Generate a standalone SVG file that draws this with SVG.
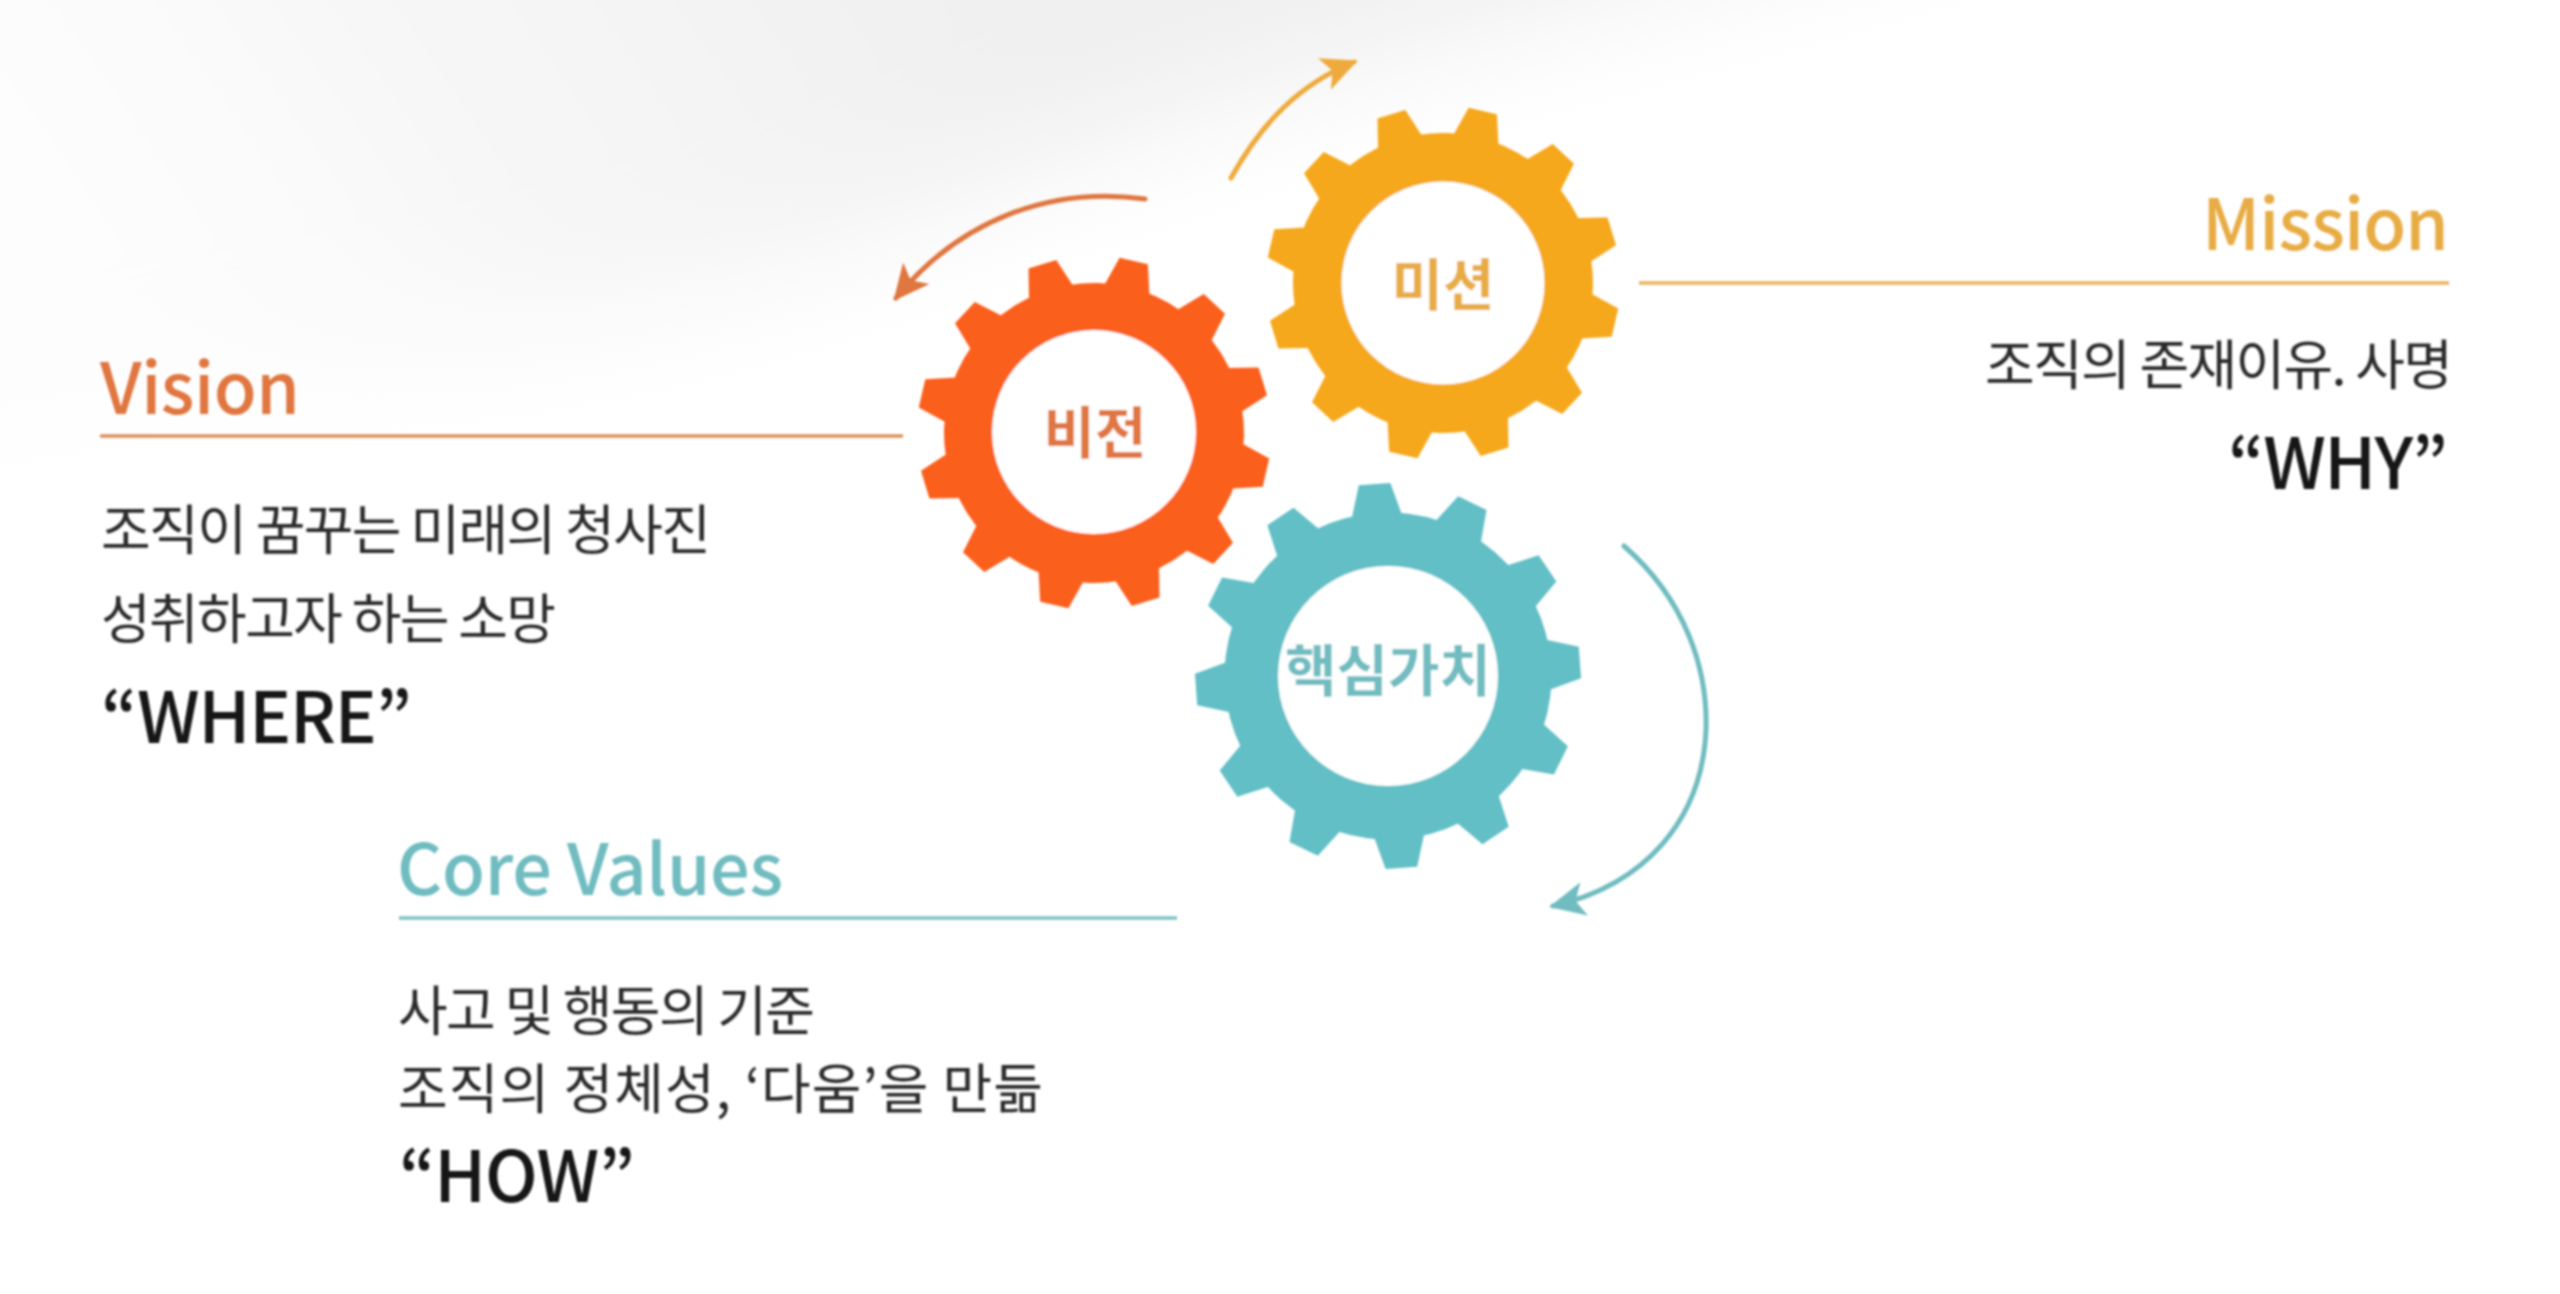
<svg xmlns="http://www.w3.org/2000/svg" xmlns:xlink="http://www.w3.org/1999/xlink" width="2560" height="1294" viewBox="0 0 2560 1294">
<style>
text{font-family:"Noto Sans CJK KR","Noto Sans",sans-serif}
.title{font-size:70px;font-weight:500}
.body{font-size:54px;font-weight:400;fill:#2a2a2a}
.key{font-size:70px;font-weight:500;fill:#151515}
.gl{font-size:56px;font-weight:700;text-anchor:middle}
.o{fill:#e0763f}.y{fill:#e8ac45}.t{fill:#6fbcc0}
.arc{fill:none;stroke-width:5;stroke-linecap:round}
.rule{stroke-width:3.5;fill:none}
</style>
<defs>
<linearGradient id="bgGrad" gradientUnits="userSpaceOnUse" x1="1000" y1="0" x2="300" y2="480"><stop offset="0" stop-color="#f0f0f0"/><stop offset="0.55" stop-color="#f6f6f6"/><stop offset="1" stop-color="#fdfdfd"/></linearGradient>
<filter id="bgBlur" x="-20%" y="-20%" width="140%" height="140%"><feGaussianBlur stdDeviation="60"/></filter>
<filter id="soft" x="0" y="0" width="100%" height="100%" filterUnits="userSpaceOnUse" primitiveUnits="userSpaceOnUse"><feGaussianBlur stdDeviation="0.9"/></filter>
<path id="tooth" d="M-23-147L-14.500-176.500L14.500-176.500L23-147Z"/>
<g id="cog">
<circle r="150"/>
<use href="#tooth"/><use href="#tooth" transform="rotate(30)"/><use href="#tooth" transform="rotate(60)"/><use href="#tooth" transform="rotate(90)"/><use href="#tooth" transform="rotate(120)"/><use href="#tooth" transform="rotate(150)"/><use href="#tooth" transform="rotate(180)"/><use href="#tooth" transform="rotate(210)"/><use href="#tooth" transform="rotate(240)"/><use href="#tooth" transform="rotate(270)"/><use href="#tooth" transform="rotate(300)"/><use href="#tooth" transform="rotate(330)"/>
</g>
<marker id="mO" markerUnits="userSpaceOnUse" markerWidth="44" markerHeight="44" refX="32" refY="20" orient="auto"><path d="M0 3L36 20L0 37L9 20Z" fill="#e0763f"/></marker>
<marker id="mY" markerUnits="userSpaceOnUse" markerWidth="44" markerHeight="44" refX="32" refY="20" orient="auto"><path d="M0 3L36 20L0 37L9 20Z" fill="#eeaa3c"/></marker>
<marker id="mT" markerUnits="userSpaceOnUse" markerWidth="44" markerHeight="44" refX="32" refY="20" orient="auto"><path d="M0 3L36 20L0 37L9 20Z" fill="#6fbcc0"/></marker>
</defs>
<rect width="2560" height="1294" fill="#fff"/>
<path id="backdrop" d="M-200-200H2300C1800-30 1300 60 1000 190C700 320 300 400-200 460Z" fill="url(#bgGrad)" filter="url(#bgBlur)"/>
<g filter="url(#soft)">
<g id="connectors">
<path class="arc" stroke="#eeaa3c" marker-end="url(#mY)" d="M1231 178C1262 122 1300 84 1354 62"/>
<path class="arc" stroke="#e0763f" marker-end="url(#mO)" d="M1145 199C1050 186 960 220 896 298"/>
<path class="arc" stroke="#6fbcc0" marker-end="url(#mT)" d="M1624 546C1686 600 1708 670 1706 730C1702 820 1645 885 1553 906"/>
<path class="rule" stroke="#dd9058" d="M100 436H903"/>
<path class="rule" stroke="#eab25e" d="M1639 283H2449"/>
<path class="rule" stroke="#7cc3c6" d="M399 918H1177"/>
</g>
<g id="gear-vision">
<use href="#cog" transform="translate(1094 433) rotate(13)" fill="#fb5f1e"/>
<circle cx="1094" cy="432" r="102" fill="#fff"/>
<text class="gl o" x="1095" y="453">비전</text>
</g>
<g id="gear-mission">
<use href="#cog" transform="translate(1443 283) rotate(13)" fill="#f5a81c"/>
<circle cx="1443" cy="283" r="101.500" fill="#fff"/>
<text class="gl y" x="1443" y="305">미션</text>
</g>
<g id="gear-values">
<use href="#cog" transform="translate(1388 676) rotate(-4) scale(1.09)" fill="#62bfc6"/>
<circle cx="1388" cy="676" r="110" fill="#fff"/>
<text class="gl t" x="1388" y="691">핵심가치</text>
</g>
<g id="label-vision">
<text class="title o" x="100" y="414" textLength="200">Vision</text>
<text class="body" x="101" y="550" textLength="610">조직이 꿈꾸는 미래의 청사진</text>
<text class="body" x="101" y="639" textLength="455">성취하고자 하는 소망</text>
<text class="key" x="101" y="743" textLength="311">“WHERE”</text>
</g>
<g id="label-values">
<text class="title t" x="397" y="895" textLength="386">Core Values</text>
<text class="body" x="398" y="1031" textLength="417">사고 및 행동의 기준</text>
<text class="body" x="398" y="1109" textLength="645">조직의 정체성, ‘다움’을 만듦</text>
<text class="key" x="399" y="1202" textLength="236">“HOW”</text>
</g>
<g id="label-mission">
<text class="title y" x="2202" y="250" textLength="247">Mission</text>
<text class="body" x="1985" y="385" textLength="468">조직의 존재이유. 사명</text>
<text class="key" x="2228" y="489" textLength="220">“WHY”</text>
</g>
</g>
</svg>
